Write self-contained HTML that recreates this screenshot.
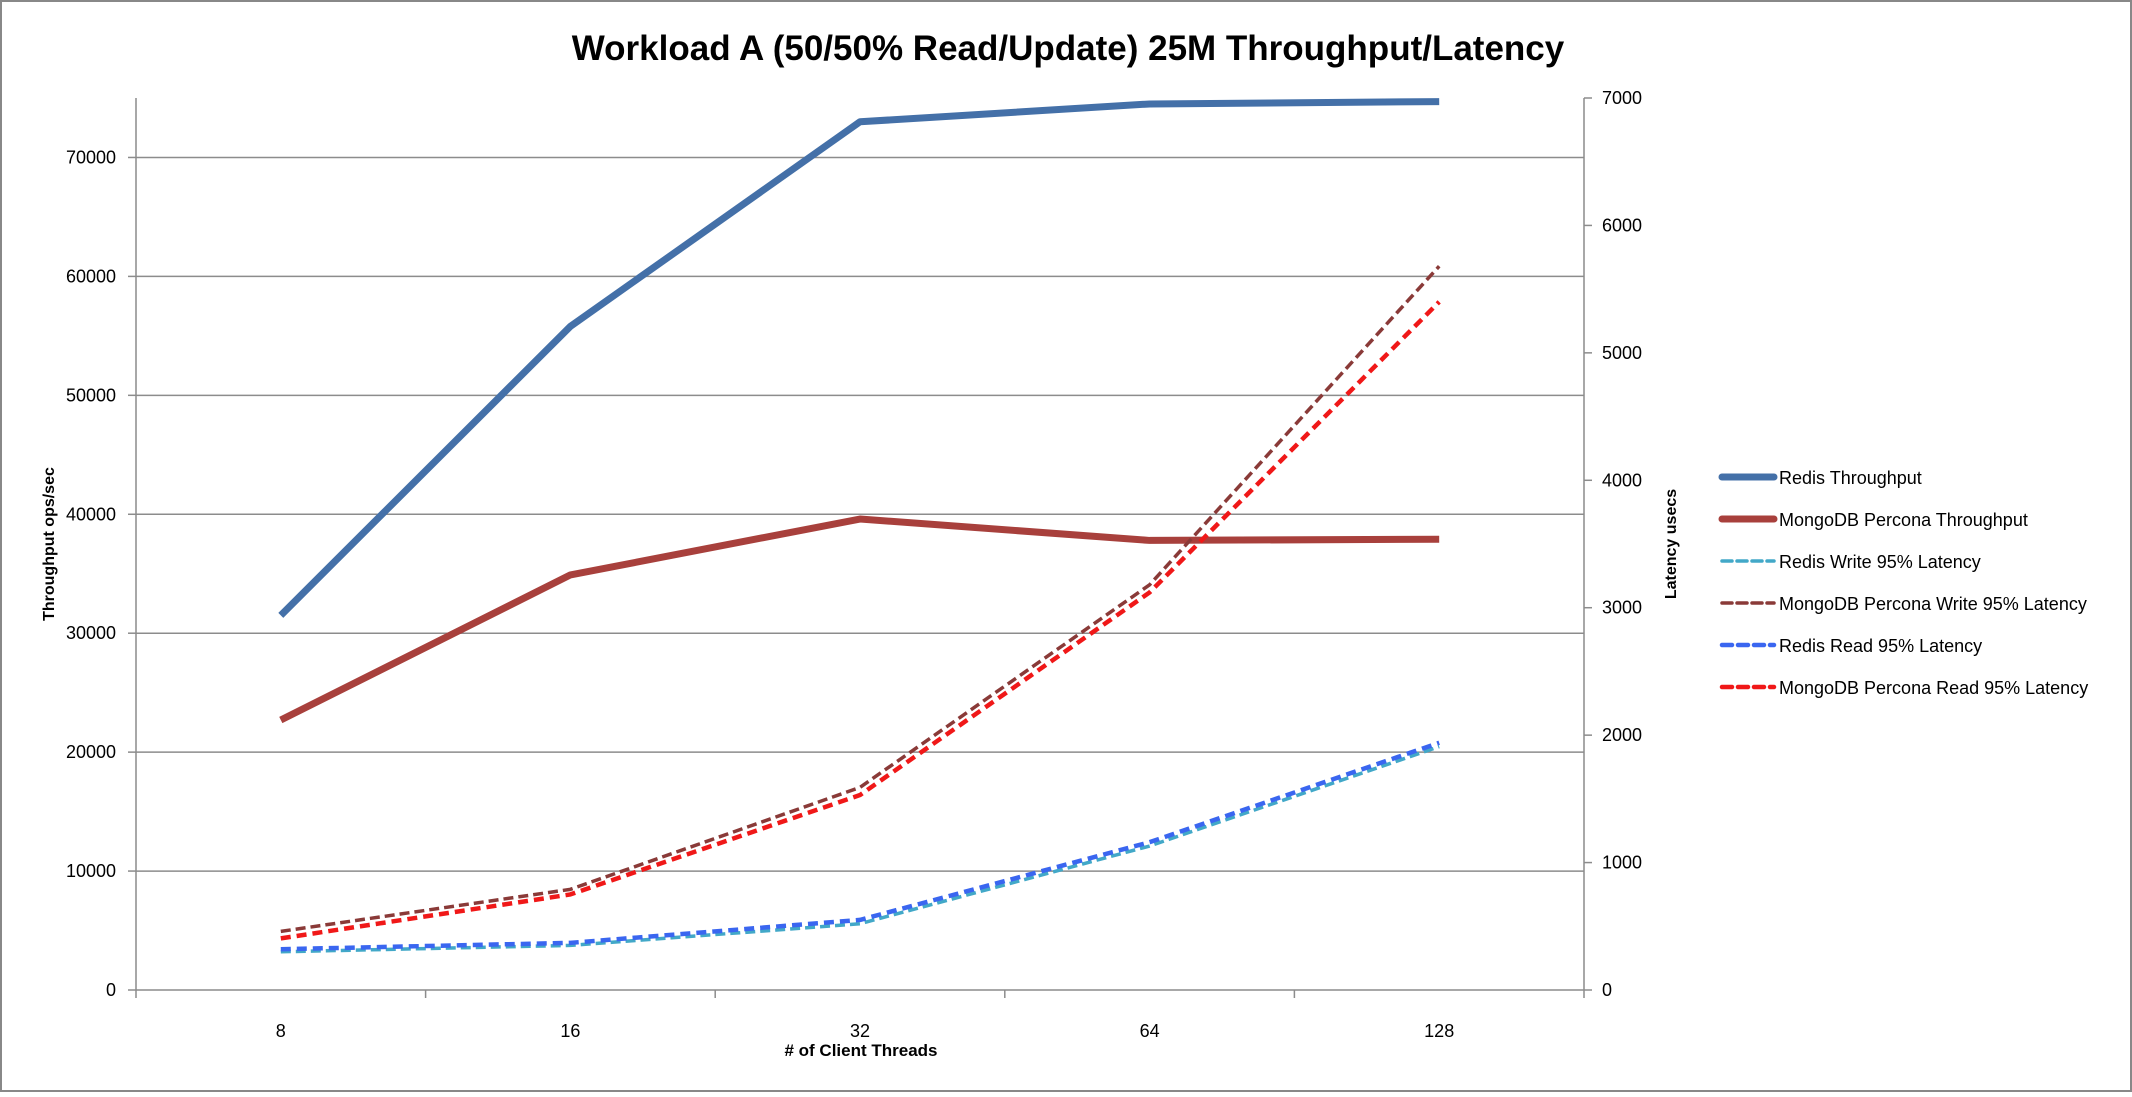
<!DOCTYPE html>
<html><head><meta charset="utf-8"><style>
html,body{margin:0;padding:0;background:#fff}
svg text{font-family:"Liberation Sans",sans-serif}
</style></head><body>
<svg id="chart" width="2132" height="1092" viewBox="0 0 2132 1092" xmlns="http://www.w3.org/2000/svg">
<rect x="1" y="1" width="2130" height="1090" fill="#fff" stroke="#888" stroke-width="2"/>
<text x="1068" y="60" text-anchor="middle" font-size="35" font-weight="bold" fill="#000">Workload A (50/50% Read/Update) 25M Throughput/Latency</text>
<g id="grid"></g><g id="axes"></g><g id="series"></g><g id="legend"></g>
<text transform="translate(54,544) rotate(-90)" text-anchor="middle" font-size="16" font-weight="bold">Throughput ops/sec</text>
<text transform="translate(1676,544) rotate(-90)" text-anchor="middle" font-size="16" font-weight="bold">Latency usecs</text>
<text x="861" y="1056" text-anchor="middle" font-size="17" font-weight="bold"># of Client Threads</text>
</svg>
<script>
const categories=["8","16","32","64","128"];
const redisThroughput=[31500,55800,73000,74500,74700];
const mongoThroughput=[22700,34900,39600,37800,37900];
const redisWrite=[300,350,520,1130,1910];
const mongoWrite=[460,790,1590,3180,5680];
const redisRead=[320,370,550,1160,1940];
const mongoRead=[405,750,1530,3120,5400];
const leftTicks=[0,10000,20000,30000,40000,50000,60000,70000];
const rightTicks=[0,1000,2000,3000,4000,5000,6000,7000];

const NS="http://www.w3.org/2000/svg";
const L=136,R=1584,B=990,T=98;
const band=(R-L)/categories.length;
const xPos=i=>L+band*(i+0.5);
const yL=v=>B-(v/75000)*(B-T);
const yR=v=>B-(v/7000)*(B-T);
function mk(tag,attrs,parent){const e=document.createElementNS(NS,tag);for(const k in attrs)e.setAttribute(k,attrs[k]);parent.appendChild(e);return e;}
const grid=document.getElementById('grid'),axes=document.getElementById('axes'),ser=document.getElementById('series'),leg=document.getElementById('legend');
leftTicks.forEach(v=>{
  if(v>0){const g=mk('line',{x1:L,x2:R,y1:yL(v),y2:yL(v),stroke:'#8c8c8c','stroke-width':1.5},grid);
  
  }
  const tk=mk('line',{x1:L-8,x2:L,y1:yL(v),y2:yL(v),stroke:'#8c8c8c','stroke-width':1.5},axes);
  
  
  const t=mk('text',{x:L-20,y:yL(v)+6,'text-anchor':'end','font-size':18},axes);t.textContent=v;
  
  
});
rightTicks.forEach(v=>{
  const tk=mk('line',{x1:R,x2:R+8,y1:yR(v),y2:yR(v),stroke:'#8c8c8c','stroke-width':1.5},axes);
  
  
  const t=mk('text',{x:R+18,y:yR(v)+6,'text-anchor':'start','font-size':18},axes);t.textContent=v;
  
  
});
[[L,T,L,B],[R,T,R,B],[L,B,R,B]].forEach(a=>{const l=mk('line',{x1:a[0],y1:a[1],x2:a[2],y2:a[3],stroke:'#8c8c8c','stroke-width':1.5},axes);
  
  });
for(let i=0;i<=categories.length;i++){const l=mk('line',{x1:L+band*i,x2:L+band*i,y1:B,y2:B+8,stroke:'#8c8c8c','stroke-width':1.5},axes);
  
  }
categories.forEach((c,i)=>{const t=mk('text',{x:xPos(i),y:1037,'text-anchor':'middle','font-size':18},axes);t.textContent=c;
  
  });
const series=[
 {name:'Redis Throughput',data:redisThroughput,y:yL,color:'#4470a8',w:7,dash:null,id:'redis-throughput-line'},
 {name:'MongoDB Percona Throughput',data:mongoThroughput,y:yL,color:'#a8403c',w:7,dash:null,id:'mongo-throughput-line'},
 {name:'Redis Write 95% Latency',data:redisWrite,y:yR,color:'#42a8c8',w:3.5,dash:'10,5',id:'redis-write-latency-line'},
 {name:'MongoDB Percona Write 95% Latency',data:mongoWrite,y:yR,color:'#8a3a38',w:3.5,dash:'10,5',id:'mongo-write-latency-line'},
 {name:'Redis Read 95% Latency',data:redisRead,y:yR,color:'#3a66f0',w:4.5,dash:'10,6',id:'redis-read-latency-line'},
 {name:'MongoDB Percona Read 95% Latency',data:mongoRead,y:yR,color:'#f01818',w:4.5,dash:'10,6',id:'mongo-read-latency-line'}
];
series.forEach((s,k)=>{
  const pts=s.data.map((v,i)=>xPos(i)+','+s.y(v)).join(' ');
  const a={points:pts,fill:'none',stroke:s.color,'stroke-width':s.w,'stroke-linejoin':'round'};
  if(s.dash)a['stroke-dasharray']=s.dash;
  const p=mk('polyline',a,ser);
  
  
  const ly=477+k*42;
  const la={x1:1722,x2:1774,y1:ly,y2:ly,stroke:s.color,'stroke-width':s.w,'stroke-linecap':'round'};
  if(s.dash)la['stroke-dasharray']=s.dash;
  const ll=mk('line',la,leg);
  
  
  const t=mk('text',{x:1779,y:ly+7,'font-size':18},leg);t.textContent=s.name;
  
  
});
</script>
</body></html>
